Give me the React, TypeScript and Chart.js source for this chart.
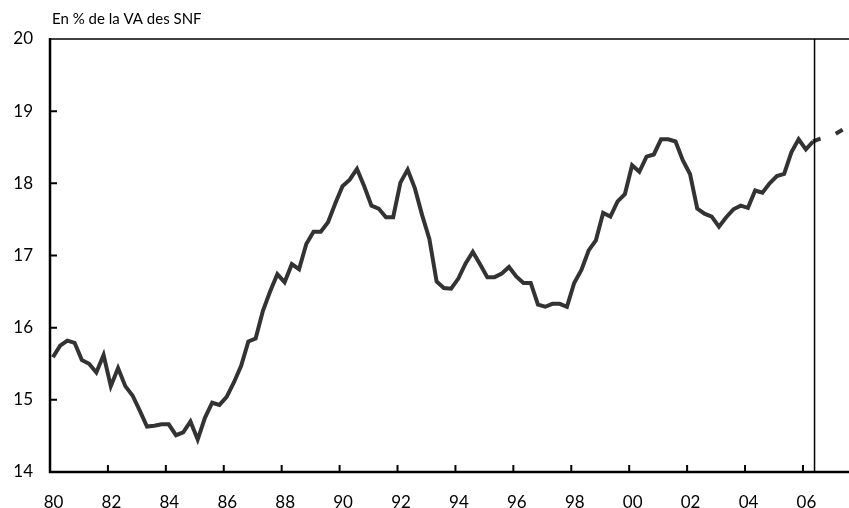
import React, { useEffect, useRef } from "react";
import { Chart, registerables } from "chart.js";

Chart.register(...registerables);

// Quarterly series, 1980T1 .. 2006T2 (observed), in % of value added of non-financial corporations
const START_YEAR = 1980;
const observed: number[] = [
  15.59, 15.75, 15.82, 15.79, 15.55, 15.5, 15.38, 15.62, 15.19, 15.44,
  15.19, 15.06, 14.85, 14.63, 14.64, 14.66, 14.66, 14.51, 14.55, 14.7,
  14.45, 14.75, 14.96, 14.93, 15.04, 15.24, 15.47, 15.81, 15.85, 16.23,
  16.5, 16.74, 16.63, 16.88, 16.81, 17.16, 17.33, 17.33, 17.46, 17.72,
  17.96, 18.05, 18.2, 17.96, 17.69, 17.65, 17.53, 17.53, 18.01, 18.19,
  17.93, 17.56, 17.23, 16.64, 16.55, 16.54, 16.68, 16.89, 17.05, 16.88,
  16.7, 16.7, 16.75, 16.84, 16.71, 16.62, 16.62, 16.32, 16.29, 16.33,
  16.33, 16.29, 16.62, 16.8, 17.07, 17.21, 17.59, 17.54, 17.75, 17.85,
  18.25, 18.16, 18.37, 18.4, 18.61, 18.61, 18.58, 18.32, 18.13, 17.65,
  17.58, 17.54, 17.4, 17.53, 17.64, 17.69, 17.66, 17.9, 17.87, 18.0,
  18.1, 18.13, 18.43, 18.61, 18.47, 18.58,
];
// Projection, starting at 2006T2 (last observed point)
const projection: number[] = [18.58, 18.62, 18.65, 18.68, 18.74, 18.8];
const PROJ_START_INDEX = observed.length - 1;

const Y_TICKS = [14, 15, 16, 17, 18, 19, 20];
const X_TICKS = [1980, 1982, 1984, 1986, 1988, 1990, 1992, 1994, 1996, 1998, 2000, 2002, 2004, 2006];
const SEPARATOR_DATE = 2006.4;
const TITLE = "En % de la VA des SNF";

const X_MIN = 1980;
const X_MAX = 2007.59;
const Q_OFFSET = 0.1;

const FONT = "Lato, 'Open Sans', sans-serif";

const toPoints = (vals: number[], startIndex: number) =>
  vals.map((v, k) => ({ x: START_YEAR + (startIndex + k) / 4 + Q_OFFSET, y: v }));

export default function App() {
  const ref = useRef<HTMLCanvasElement | null>(null);

  useEffect(() => {
    if (!ref.current) return;
    const framePlugin = {
      id: "frame",
      afterDraw(chart: any) {
        const { ctx, chartArea } = chart;
        const xs = chart.scales.x;
        const ys = chart.scales.y;
        const { left, right, top, bottom } = chartArea;
        ctx.save();
        ctx.strokeStyle = "#000";
        // top border
        ctx.lineWidth = 1.5;
        ctx.beginPath();
        ctx.moveTo(left, top);
        ctx.lineTo(right + 2, top);
        ctx.stroke();
        // separator vertical line
        const vx = xs.getPixelForValue(SEPARATOR_DATE);
        ctx.lineWidth = 1.5;
        ctx.beginPath();
        ctx.moveTo(vx, top);
        ctx.lineTo(vx, bottom);
        ctx.stroke();
        // axes
        ctx.lineWidth = 2.5;
        ctx.beginPath();
        ctx.moveTo(left, top - 1);
        ctx.lineTo(left, bottom);
        ctx.lineTo(right + 2, bottom);
        ctx.stroke();
        // ticks
        ctx.lineWidth = 2;
        ctx.beginPath();
        X_TICKS.forEach((t) => {
          if (t === X_MIN) return;
          const px = xs.getPixelForValue(t);
          ctx.moveTo(px, bottom);
          ctx.lineTo(px, bottom - 7);
        });
        Y_TICKS.forEach((t) => {
          if (t === 14 || t === 20) return;
          const py = ys.getPixelForValue(t);
          ctx.moveTo(left, py);
          ctx.lineTo(left + 7, py);
        });
        ctx.stroke();
        // title
        ctx.fillStyle = "#000";
        ctx.font = `15px ${FONT}`;
        ctx.textAlign = "left";
        ctx.textBaseline = "alphabetic";
        ctx.fillText(TITLE, left + 2, 24);
        ctx.restore();
      },
    };

    const chart = new Chart(ref.current, {
      type: "line",
      data: {
        datasets: [
          {
            data: toPoints(observed, 0),
            borderColor: "#333333",
            borderWidth: 4,
            pointRadius: 0,
            tension: 0,
            fill: false,
          },
          {
            data: toPoints(projection, PROJ_START_INDEX),
            borderColor: "#333333",
            borderWidth: 4,
            borderDash: [8, 16],
            pointRadius: 0,
            tension: 0,
            fill: false,
          },
        ],
      },
      options: {
        animation: false,
        responsive: false,
        devicePixelRatio: 1,
        layout: { padding: { top: 39, right: 0, left: 0, bottom: 0 } },
        plugins: { legend: { display: false }, tooltip: { enabled: false }, title: { display: false } },
        scales: {
          x: {
            type: "linear",
            min: X_MIN,
            max: X_MAX,
            grid: { display: false },
            border: { display: false },
            afterFit: (s: any) => {
              s.height = 36;
            },
            afterBuildTicks: (s: any) => {
              s.ticks = X_TICKS.map((v) => ({ value: v }));
            },
            ticks: {
              includeBounds: false,
              autoSkip: false,
              maxRotation: 0,
              padding: 12,
              labelOffset: 3.5,
              color: "#000",
              font: { family: FONT, size: 17 },
              callback: (v: any) => String(Number(v) % 100).padStart(2, "0"),
            },
          },
          y: {
            min: 14,
            max: 20,
            grid: { display: false },
            border: { display: false },
            afterFit: (s: any) => {
              s.width = 50;
            },
            afterBuildTicks: (s: any) => {
              s.ticks = Y_TICKS.map((v) => ({ value: v }));
            },
            ticks: {
              padding: 9,
              color: "#000",
              font: { family: FONT, size: 17 },
              callback: (v: any) => String(v),
            },
          },
        },
      },
      plugins: [framePlugin],
    });
    return () => chart.destroy();
  }, []);

  return (
    <div style={{ position: "fixed", left: 0, top: 0, width: 849, height: 508, background: "#fff" }}>
      <canvas ref={ref} width={849} height={508} />
    </div>
  );
}
